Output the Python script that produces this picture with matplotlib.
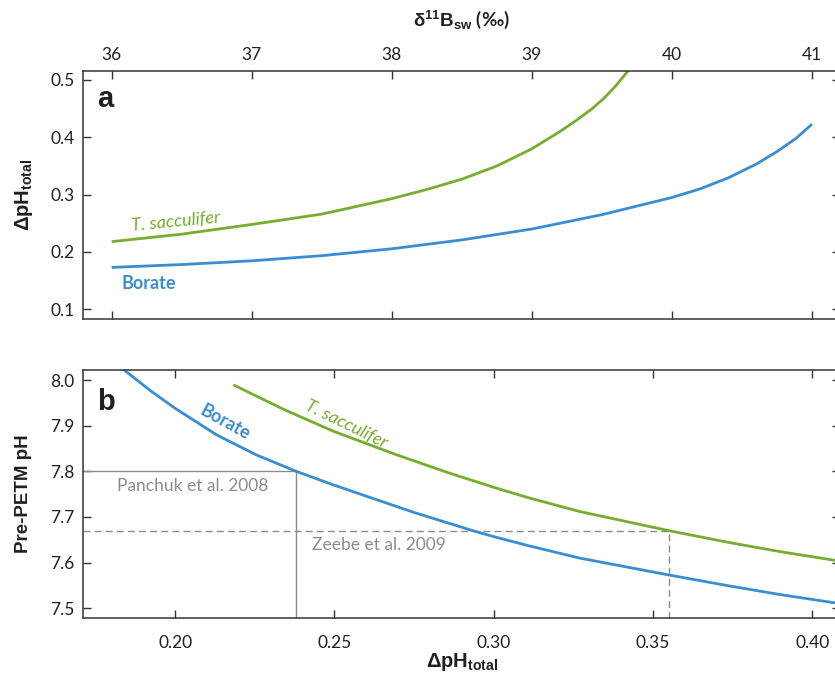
import numpy as np
import matplotlib
matplotlib.use("Agg")
import matplotlib.pyplot as plt

# -------------------------------
# data
# -------------------------------
# panel a: delta11B of seawater vs delta pH
d11b_borate = [36.0, 36.5, 37.0, 37.5, 38.0, 38.5, 39.0, 39.5, 40.0, 40.2, 40.4, 40.6, 40.75, 40.89, 41.0]
dph_borate = [0.173, 0.178, 0.1845, 0.1935, 0.2055, 0.221, 0.240, 0.265, 0.295, 0.310, 0.329, 0.353, 0.375, 0.399, 0.423]

d11b_sacc = [36.0, 36.5, 37.0, 37.5, 38.0, 38.25, 38.5, 38.75, 39.0, 39.2, 39.32, 39.43, 39.51, 39.6, 39.69]
dph_sacc = [0.218, 0.231, 0.248, 0.266, 0.293, 0.309, 0.327, 0.350, 0.380, 0.410, 0.430, 0.450, 0.467, 0.490, 0.517]

# panel b: delta pH vs pre-PETM pH
dph_b_borate = [0.184, 0.192, 0.200, 0.213, 0.2255, 0.238, 0.249, 0.259, 0.275, 0.293, 0.300, 0.311, 0.327, 0.355, 0.374, 0.390, 0.409]
ph_b_borate = [8.022, 7.978, 7.938, 7.880, 7.836, 7.800, 7.772, 7.748, 7.710, 7.671, 7.657, 7.637, 7.610, 7.573, 7.549, 7.530, 7.510]

dph_b_sacc = [0.2187, 0.234, 0.2496, 0.2696, 0.2853, 0.300, 0.311, 0.327, 0.355, 0.374, 0.390, 0.409]
ph_b_sacc = [7.988, 7.936, 7.888, 7.836, 7.798, 7.765, 7.742, 7.712, 7.670, 7.644, 7.624, 7.603]

# reference estimates
ref_names = ["Panchuk et al. 2008", "Zeebe et al. 2009"]
ref_ph = [7.80, 7.67]
ref_dph = [0.238, 0.355]

top_ticks = [36, 37, 38, 39, 40, 41]
a_yticks = [0.1, 0.2, 0.3, 0.4, 0.5]
b_xticks = [0.20, 0.25, 0.30, 0.35, 0.40]
b_yticks = [7.5, 7.6, 7.7, 7.8, 7.9, 8.0]

blue = "#3a8dd0"
green = "#75ad2f"
gray = "#8c8c8c"
dark = "#231f20"
narrow = ["Lato", "DejaVu Sans"]
wide = ["Liberation Sans", "DejaVu Sans"]

plt.rcParams["font.family"] = narrow
plt.rcParams["mathtext.fontset"] = "custom"
plt.rcParams["mathtext.rm"] = "Liberation Sans:bold"
plt.rcParams["mathtext.bf"] = "Liberation Sans:bold"
plt.rcParams["mathtext.it"] = "Liberation Sans:bold"
plt.rcParams["mathtext.default"] = "bf"

fig = plt.figure(figsize=(8.35, 6.79), dpi=100)
W, H = 835.0, 679.0
ax_a = fig.add_axes([83 / W, 1 - 319 / H, 757 / W, 248 / H])
ax_b = fig.add_axes([83 / W, 1 - 618 / H, 757 / W, 248 / H])

for ax in (ax_a, ax_b):
    for s in ax.spines.values():
        s.set_linewidth(1.1)
        s.set_color("#333333")
    ax.tick_params(direction="in", length=6, width=1.0, color="#333333",
                   labelsize=12.5, labelcolor=dark, top=True, right=True)

# -------------------------------
# panel a
# -------------------------------
ax_a.plot(d11b_sacc, dph_sacc, color=green, lw=2.0, solid_capstyle="butt")
ax_a.plot(d11b_borate, dph_borate, color=blue, lw=2.0, solid_capstyle="butt")
ax_a.set_xlim(35.795, 41.2)
ax_a.set_ylim(0.083, 0.5157)
ax_a.set_xticks(top_ticks)
ax_a.set_yticks(a_yticks)
ax_a.set_yticklabels([f"{v:.1f}" for v in a_yticks])
ax_a.tick_params(axis="x", labeltop=True, labelbottom=False, pad=6)
ax_a.tick_params(axis="y", pad=6)

ax_a.text(36.138, 0.236, "T. sacculifer", color=green, style="italic", fontsize=13,
          rotation=5.5, ha="left", va="baseline")
ax_a.text(36.073, 0.135, "Borate", color=blue, fontweight="bold", fontsize=13,
          ha="left", va="baseline")
ax_a.text(0.018, 0.855, "a", transform=ax_a.transAxes, fontsize=21, fontweight="bold",
          color=dark, family=wide, ha="left", va="baseline")

# -------------------------------
# panel b
# -------------------------------
xmin_b, ymin_b = 0.1711, 7.4788
ax_b.plot([xmin_b, ref_dph[0], ref_dph[0]], [ref_ph[0], ref_ph[0], ymin_b],
          color=gray, lw=1.0)
ax_b.plot([xmin_b, ref_dph[1], ref_dph[1]], [ref_ph[1], ref_ph[1], ymin_b],
          color=gray, lw=1.0, dashes=(5, 3))
ax_b.plot(dph_b_sacc, ph_b_sacc, color=green, lw=2.0)
ax_b.plot(dph_b_borate, ph_b_borate, color=blue, lw=2.0)
ax_b.set_xlim(xmin_b, 0.4087)
ax_b.set_ylim(ymin_b, 8.0219)
ax_b.set_xticks(b_xticks)
ax_b.set_xticklabels([f"{v:.2f}" for v in b_xticks])
ax_b.set_yticks(b_yticks)
ax_b.set_yticklabels([f"{v:.1f}" for v in b_yticks])
ax_b.tick_params(axis="x", pad=12)
ax_b.tick_params(axis="y", pad=6)

ax_b.text(0.2157, 7.908, "Borate", color=blue, fontweight="bold", fontsize=13,
          rotation=-29, ha="center", va="center")
ax_b.text(0.2537, 7.904, "T. sacculifer", color=green, style="italic", fontsize=13,
          rotation=-26, ha="center", va="center")
ax_b.text(0.1818, 7.757, ref_names[0], color=gray, fontsize=12.5, ha="left", va="baseline")
ax_b.text(0.2429, 7.628, ref_names[1], color=gray, fontsize=12.5, ha="left", va="baseline")
ax_b.text(0.018, 0.84, "b", transform=ax_b.transAxes, fontsize=21, fontweight="bold",
          color=dark, family=wide, ha="left", va="baseline")

# -------------------------------
# axis titles
# -------------------------------
fig.text(461 / W, 1 - 20 / H, r"$\delta^{11}B_{sw}$" + " (‰)", fontsize=13.5,
         fontweight="bold", color=dark, ha="center", va="center")
fig.text(462 / W, 1 - 662 / H, r"$\Delta pH_{total}$", fontsize=14.5,
         color=dark, ha="center", va="center")
fig.text(24 / W, 1 - 195 / H, r"$\Delta pH_{total}$", fontsize=14.5, rotation=90,
         color=dark, ha="center", va="center")
fig.text(24 / W, 1 - 494 / H, "Pre-PETM pH", fontsize=13.5, fontweight="bold", rotation=90,
         color=dark, ha="center", va="center", family=wide)

fig.savefig("out.png", dpi=100)
